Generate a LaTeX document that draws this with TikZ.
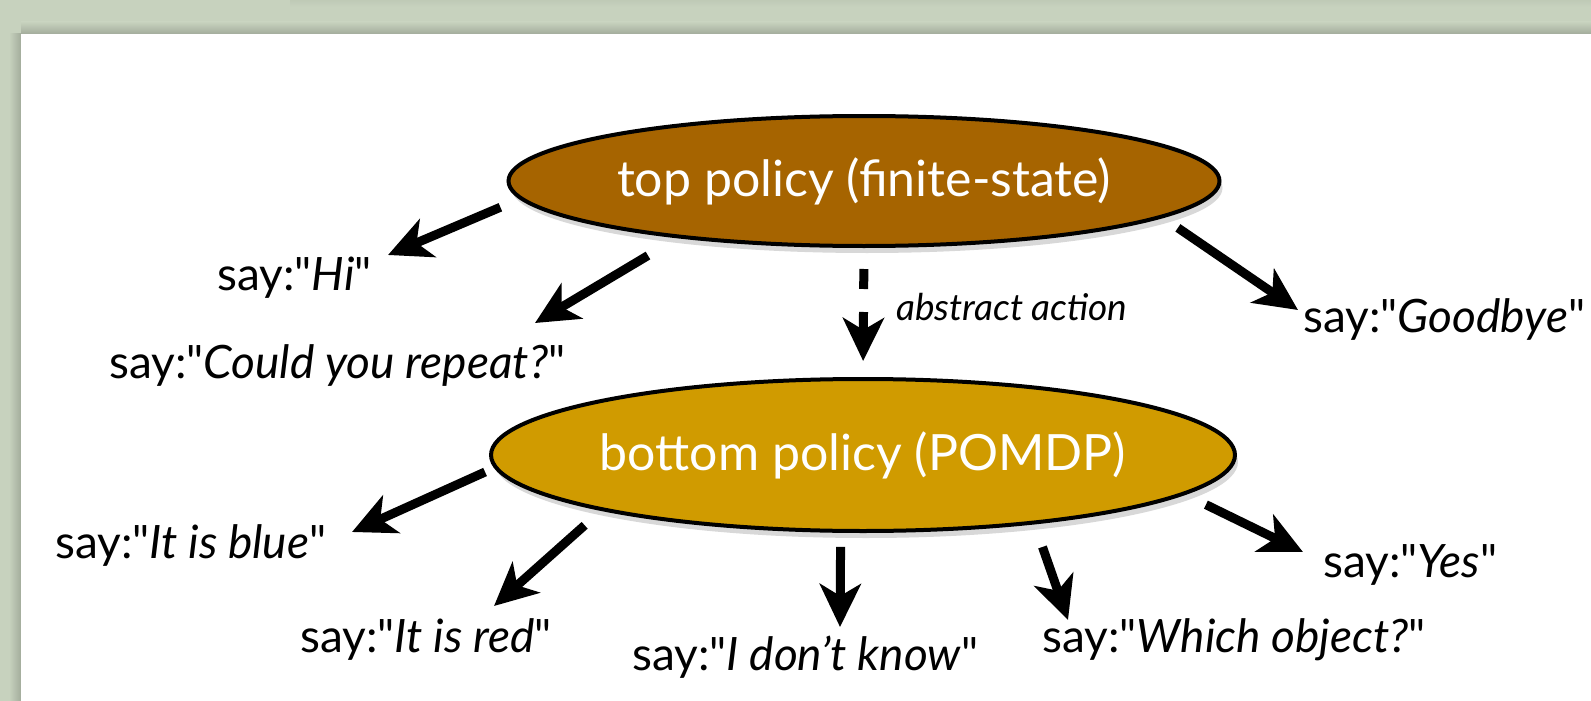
\documentclass[tikz,border=0pt]{standalone}
\usepackage{fontspec}
\setmainfont{Lato}
\usetikzlibrary{shapes.geometric,arrows.meta,shadows}
\definecolor{paneback}{HTML}{C7D2BE}
\definecolor{topbrown}{HTML}{A66400}
\definecolor{botgold}{HTML}{D09B00}
\newcommand\utter[1]{say:\textquotedbl\textit{#1}\textquotedbl}

\begin{document}
\begin{tikzpicture}[x=1pt, y=-1pt,
        policy/.style = {ellipse, draw, line width=4pt, inner sep=0pt, text=white,
            font=\fontsize{50}{56}\selectfont,
            drop shadow={shadow xshift=3pt, shadow yshift=-7pt, opacity=0.25, fill=black!60}},
        saying/.style = {anchor=base west, inner sep=0pt, font=\fontsize{46}{52}\selectfont},
        act/.style = {line width=9pt, -{Stealth[length=43pt, width=41pt, inset=12pt]}}]
    \useasboundingbox (0,0) rectangle (1591,701);
    \fill [paneback] (0,0) rectangle (1591,701);                          %Hintergrund
    \shade [top color=paneback!96!black, bottom color=paneback] (290,0) rectangle (1591,7);
    \shade [top color=paneback, bottom color=paneback!82!black] (21,22) rectangle (1591,34);
    \shade [left color=paneback, right color=paneback!82!black] (9,34) rectangle (21,701);
    \fill [white] (21,34) rectangle (1591,701);                           %Blatt

    % die beiden Policies
    \node [policy, fill=topbrown, minimum width=711pt, minimum height=130pt]
          (top) at (864,181) {top policy (finite-state)};
    \node [policy, fill=botgold, minimum width=735pt, minimum height=152pt]
          (bottom) at (863,455) {bottom policy (POMDP)};

    % Aktionen
    \node [saying] (hi) at (217,290) {\utter{Hi}};
    \node [saying] (could) at (109,378) {\utter{Could you repeat?}};
    \node [saying] (goodbye) at (1303,332) {\utter{Goodbye}};
    \node [saying] (blue) at (55,558) {\utter{It is blue}};
    \node [saying] (red) at (300,652) {\utter{It is red}};
    \node [saying] (dontknow) at (632,670) {\utter{I don’t know}};
    \node [saying] (which) at (1042,652) {\utter{Which object?}};
    \node [saying] (yes) at (1323,577) {\utter{Yes}};
    \node [anchor=base west, inner sep=0pt, font=\fontsize{37}{42}\selectfont\itshape]
          (abstract) at (896,320) {abstract action};

    \draw [act, shorten <=21pt] (top.183) -- ([shift={(171pt,35pt)}]hi.base west);
    \draw [act, shorten <=34pt] (top.197) -- ([shift={(426pt,55pt)}]could.base west);
    \draw [act, shorten <=18pt] (top.353) -- ([shift={(-5pt,22pt)}]goodbye.base west);
    \draw [act, dash pattern=on 20pt off 23pt, shorten <=21pt, shorten >=16pt] (top.south) -- (bottom.north);
    \draw [act, shorten <=10pt] (bottom.182) -- ([shift={(297pt,26pt)}]blue.base west);
    \draw [act, shorten <=22pt] (bottom.192) -- ([shift={(194pt,46pt)}]red.base west);
    \draw [act, shorten <=14pt] (bottom.254) -- ([shift={(208pt,43pt)}]dontknow.base west);
    \draw [act, shorten <=24pt] (bottom.338) -- ([shift={(26pt,32pt)}]which.base west);
    \draw [act, shorten <=23pt] (bottom.353) -- ([shift={(-20pt,25pt)}]yes.base west);
\end{tikzpicture}
\end{document}
